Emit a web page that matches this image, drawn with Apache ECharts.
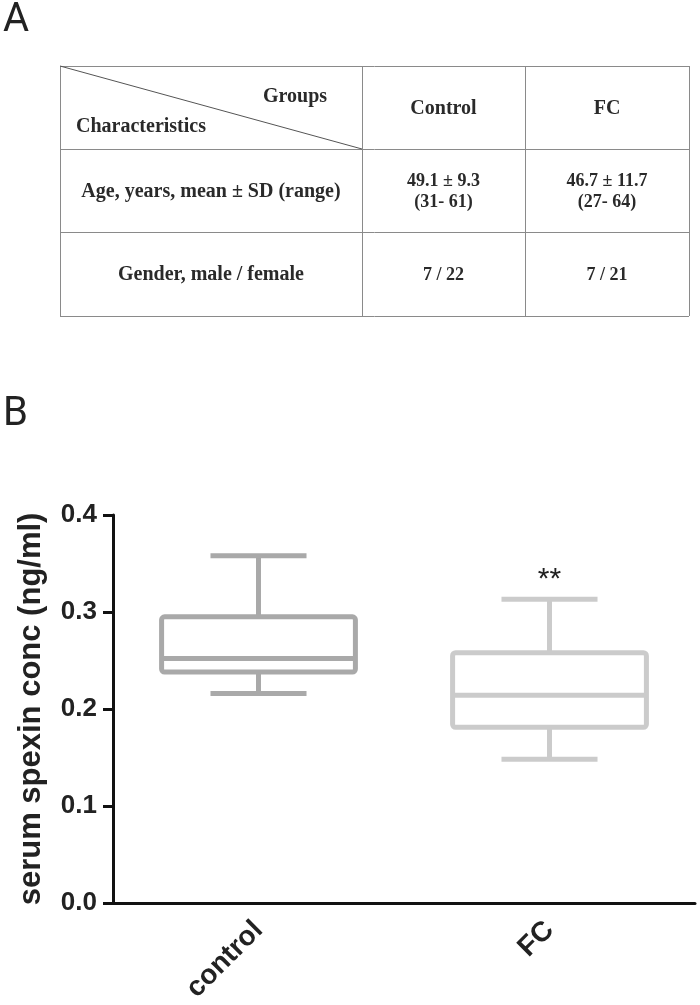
<!DOCTYPE html>
<html>
<head>
<meta charset="utf-8">
<script src="https://cdn.jsdelivr.net/npm/echarts@6/dist/echarts.min.js"></script>
<style>
  html, body { margin: 0; padding: 0; background: #fff; }
  #chart { width: 700px; height: 1005px; }
</style>
</head>
<body>
<div id="chart"></div>
<script>
// ---- Panel A: table content ----
const panelLabels = ['A', 'B'];
const tableCornerTop = 'Groups';
const tableCornerBottom = 'Characteristics';
const tableColumns = ['Control', 'FC'];
const tableRowLabels = ['Age, years, mean ± SD (range)', 'Gender, male / female'];
const tableControl = ['49.1 ± 9.3\n(31- 61)', '7 / 22'];
const tableFC = ['46.7 ± 11.7\n(27- 64)', '7 / 21'];

// ---- Panel B: box plot data ----
const categories = ['control', 'FC'];
const whiskerLow = [0.216, 0.148];
const q1 = [0.238, 0.181];
const median = [0.252, 0.214];
const q3 = [0.295, 0.258];
const whiskerHigh = [0.358, 0.313];
const significance = ['', '**'];
const yAxisName = 'serum spexin conc (ng/ml)';

const boxColors = ['#a9a9a9', '#cbcbcb'];

// ---- table graphic (layout) ----
const T = { left: 60, right: 689, top: 66, bottom: 316, cols: [60, 362, 525, 689], rows: [66, 149, 232, 316] };
const lineStyle = { stroke: '#8a8a8a', lineWidth: 1 };
const serifBold = (size) => 'bold ' + size + 'px "Liberation Serif", "Times New Roman", serif';
const graphics = [];
T.rows.forEach(y => graphics.push({ type: 'line', shape: { x1: T.left, y1: y + 0.5, x2: T.right, y2: y + 0.5 }, style: lineStyle, silent: true }));
T.cols.forEach(x => graphics.push({ type: 'line', shape: { x1: x + 0.5, y1: T.top, x2: x + 0.5, y2: T.bottom }, style: lineStyle, silent: true }));
graphics.push({ type: 'line', shape: { x1: T.cols[0], y1: T.rows[0], x2: T.cols[1], y2: T.rows[1] }, style: { stroke: '#555', lineWidth: 1 }, silent: true });
function txt(text, x, y, size, extra) {
  return Object.assign({ type: 'text', x: x, y: y, silent: true,
    style: Object.assign({ text: text, font: serifBold(size), fill: '#2a2a2a', align: 'center', verticalAlign: 'middle', lineHeight: 21 }, extra || {}) });
}
graphics.push(txt(tableCornerTop, 295, 97, 20));
graphics.push(txt(tableCornerBottom, 141, 127, 20));
const colCenters = [(T.cols[1] + T.cols[2]) / 2, (T.cols[2] + T.cols[3]) / 2];
tableColumns.forEach((c, i) => graphics.push(txt(c, colCenters[i], 109, 20)));
const rowCenters = [(T.rows[1] + T.rows[2]) / 2, (T.rows[2] + T.rows[3]) / 2];
tableRowLabels.forEach((r, i) => graphics.push(txt(r, 211, rowCenters[i] + 1, 20)));
tableControl.forEach((v, i) => graphics.push(txt(v, colCenters[0], rowCenters[i] + 1, 18)));
tableFC.forEach((v, i) => graphics.push(txt(v, colCenters[1], rowCenters[i] + 1, 18)));
// panel letters
graphics.push({ type: 'text', x: 3, y: 1, silent: true, style: { text: panelLabels[0], font: '400 40px Roboto, "DejaVu Sans", sans-serif', fill: '#222' } });
graphics.push({ type: 'text', x: 3, y: 395, silent: true, style: { text: panelLabels[1], font: '400 40px Roboto, "DejaVu Sans", sans-serif', fill: '#222' } });

const seriesData = categories.map((c, i) => [i, whiskerLow[i], q1[i], median[i], q3[i], whiskerHigh[i]]);

function renderBox(params, api) {
  const i = api.value(0);
  const x = api.coord([i, 0])[0];
  const band = api.size([1, 0])[0];
  const hb = band * 0.333, hc = band * 0.165;
  const yLo = api.coord([i, api.value(1)])[1];
  const yQ1 = api.coord([i, api.value(2)])[1];
  const yMed = api.coord([i, api.value(3)])[1];
  const yQ3 = api.coord([i, api.value(4)])[1];
  const yHi = api.coord([i, api.value(5)])[1];
  const color = boxColors[params.dataIndex];
  const st = { stroke: color, lineWidth: 5, fill: 'none' };
  const children = [
    { type: 'line', shape: { x1: x, y1: yHi, x2: x, y2: yQ3 }, style: st },
    { type: 'line', shape: { x1: x, y1: yQ1, x2: x, y2: yLo }, style: st },
    { type: 'line', shape: { x1: x - hc, y1: yHi, x2: x + hc, y2: yHi }, style: st },
    { type: 'line', shape: { x1: x - hc, y1: yLo, x2: x + hc, y2: yLo }, style: st },
    { type: 'rect', shape: { x: x - hb, y: yQ3, width: 2 * hb, height: yQ1 - yQ3, r: 3 }, style: st },
    { type: 'line', shape: { x1: x - hb, y1: yMed, x2: x + hb, y2: yMed }, style: st }
  ];
  const sig = significance[params.dataIndex];
  if (sig) {
    children.push({ type: 'text', x: x, y: yHi - 20,
      style: { text: sig, font: '30px "Liberation Sans", Arial, sans-serif', fill: '#222', align: 'center', verticalAlign: 'middle' } });
  }
  return { type: 'group', children: children };
}

const chart = echarts.init(document.getElementById('chart'), null, { renderer: 'canvas' });
chart.setOption({
  animation: false,
  backgroundColor: '#fff',
  graphic: graphics,
  grid: { left: 113, right: 5, top: 515, bottom: 102, containLabel: false },
  xAxis: {
    type: 'category',
    data: categories,
    axisLine: { lineStyle: { color: '#111', width: 3 } },
    axisTick: { alignWithLabel: true, length: 10, lineStyle: { color: '#111', width: 3 } },
    axisLabel: { rotate: 45, margin: 23, fontSize: 28, fontWeight: 'bold', color: '#222', fontFamily: '"Liberation Sans", Arial, sans-serif' },
    splitLine: { show: false }
  },
  yAxis: {
    type: 'value',
    min: 0, max: 0.4, interval: 0.1,
    name: yAxisName,
    nameLocation: 'middle',
    nameGap: 66,
    nameTextStyle: { fontSize: 31, fontWeight: 'bold', color: '#222', fontFamily: '"Liberation Sans", Arial, sans-serif' },
    axisLine: { show: true, lineStyle: { color: '#111', width: 3 } },
    axisTick: { show: true, length: 10, lineStyle: { color: '#111', width: 3 } },
    axisLabel: { margin: 16, fontSize: 26, fontWeight: 'bold', color: '#222', fontFamily: '"Liberation Sans", Arial, sans-serif', formatter: v => v.toFixed(1) },
    splitLine: { show: false }
  },
  series: [{
    type: 'custom',
    renderItem: renderBox,
    data: seriesData,
    encode: { x: 0, y: [1, 2, 3, 4, 5] },
    clip: false
  }]
});
</script>
</body>
</html>
